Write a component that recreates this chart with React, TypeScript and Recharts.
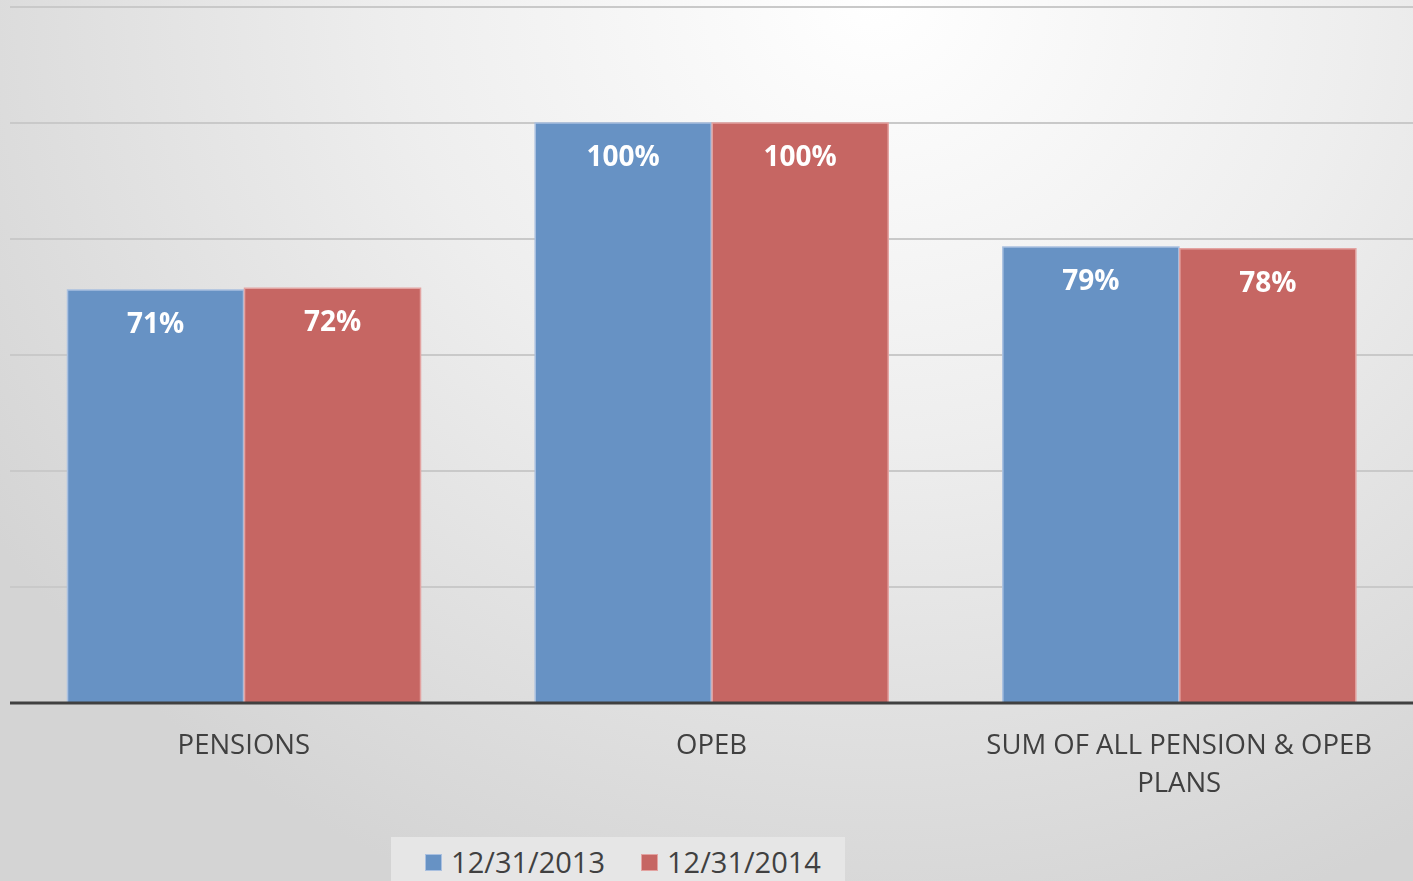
import React from 'react';
import { BarChart, Bar, XAxis, YAxis, CartesianGrid, Legend, LabelList } from 'recharts';

const categories = ['PENSIONS', 'OPEB', 'SUM OF ALL PENSION & OPEB PLANS'];
const series2013 = [71.2, 100, 78.6];
const series2014 = [71.5, 100, 78.3];
const seriesNames = ['12/31/2013', '12/31/2014'];
const yTicks = [0, 20, 40, 60, 80, 100, 120];

const data = categories.map((c, i) => ({ name: c, s2013: series2013[i], s2014: series2014[i] }));

const FONT = '"Open Sans", "DejaVu Sans", sans-serif';
const TEXT = '#404040';
const TICK_SIZE = 27.5;
const TICK_MAX_WIDTH = 420;

let measureCtx: CanvasRenderingContext2D | null = null;
const measure = (s: string) => {
  if (typeof document === 'undefined') return s.length * TICK_SIZE * 0.6;
  if (!measureCtx) measureCtx = document.createElement('canvas').getContext('2d');
  if (!measureCtx) return s.length * TICK_SIZE * 0.6;
  measureCtx.font = `${TICK_SIZE}px ${FONT}`;
  return measureCtx.measureText(s).width;
};

const wrapLines = (s: string) => {
  const words = s.split(' ');
  const lines: string[] = [];
  let cur = '';
  for (const w of words) {
    const next = cur ? `${cur} ${w}` : w;
    if (cur && measure(next) > TICK_MAX_WIDTH) {
      lines.push(cur);
      cur = w;
    } else {
      cur = next;
    }
  }
  if (cur) lines.push(cur);
  return lines;
};

const CategoryTick = (props: any) => {
  const { x, y, payload } = props;
  const lines = wrapLines(String(payload.value));
  return (
    <text
      x={x}
      y={y + 43}
      textAnchor="middle"
      fontSize={TICK_SIZE}
      fontFamily={FONT}
      fill={TEXT}
    >
      {lines.map((l, i) => (
        <tspan key={i} x={x} dy={i === 0 ? 0 : 38}>
          {l}
        </tspan>
      ))}
    </text>
  );
};

const LegendContent = (props: any) => {
  const { payload } = props;
  return (
    <div
      style={{
        display: 'flex',
        alignItems: 'center',
        justifyContent: 'center',
        background: '#e6e6e6',
        width: 454,
        height: 44,
        boxSizing: 'border-box',
        paddingTop: 5,
        paddingLeft: 10,
        fontFamily: FONT,
        fontSize: 29,
        lineHeight: '36px',
        color: TEXT,
        gap: 36,
      }}
    >
      {payload.map((p: any) => (
        <div key={p.value} style={{ display: 'flex', alignItems: 'center' }}>
          <span
            style={{
              display: 'inline-block',
              width: 15,
              height: 15,
              background: p.color,
              border: `1px solid ${p.payload.stroke}`,
              marginRight: 9,
              marginTop: 2,
            }}
          />
          <span>{p.value}</span>
        </div>
      ))}
    </div>
  );
};

export default function App() {
  return (
    <div
      style={{
        position: 'fixed',
        left: 0,
        top: 0,
        width: 1413,
        height: 881,
        background: 'radial-gradient(ellipse 75% 110% at 62% 0%, #ffffff 0%, #eeeeee 45%, #d4d4d4 100%)',
        overflow: 'hidden',
      }}
    >
      <BarChart
        width={1413}
        height={881}
        data={data}
        margin={{ top: 7, right: 0, bottom: 0, left: 10 }}
        barCategoryGap="12.3%"
        barGap={1}
      >
        <CartesianGrid vertical={false} stroke="#c9c9c9" strokeWidth={2} />
        <YAxis hide domain={[0, 120]} ticks={yTicks} />
        <XAxis
          dataKey="name"
          height={134}
          tickLine={false}
          axisLine={{ stroke: '#404040', strokeWidth: 3 }}
          tick={<CategoryTick />}
          interval={0}
        />
        <Legend
          verticalAlign="bottom"
          content={<LegendContent />}
          wrapperStyle={{ left: 391, width: 454 }}
        />
        <Bar dataKey="s2013" name={seriesNames[0]} fill="#6792c4" stroke="#a9c0e0" strokeWidth={1.5} isAnimationActive={false}>
          <LabelList
            dataKey="s2013"
            position="insideTop"
            offset={23}
            formatter={(v: any) => `${Math.round(v)}%`}
            fill="#ffffff"
            fontSize={28}
            fontWeight="bold"
            fontFamily={FONT}
          />
        </Bar>
        <Bar dataKey="s2014" name={seriesNames[1]} fill="#c66663" stroke="#e3a3a1" strokeWidth={1.5} isAnimationActive={false}>
          <LabelList
            dataKey="s2014"
            position="insideTop"
            offset={23}
            formatter={(v: any) => `${Math.round(v)}%`}
            fill="#ffffff"
            fontSize={28}
            fontWeight="bold"
            fontFamily={FONT}
          />
        </Bar>
      </BarChart>
    </div>
  );
}
